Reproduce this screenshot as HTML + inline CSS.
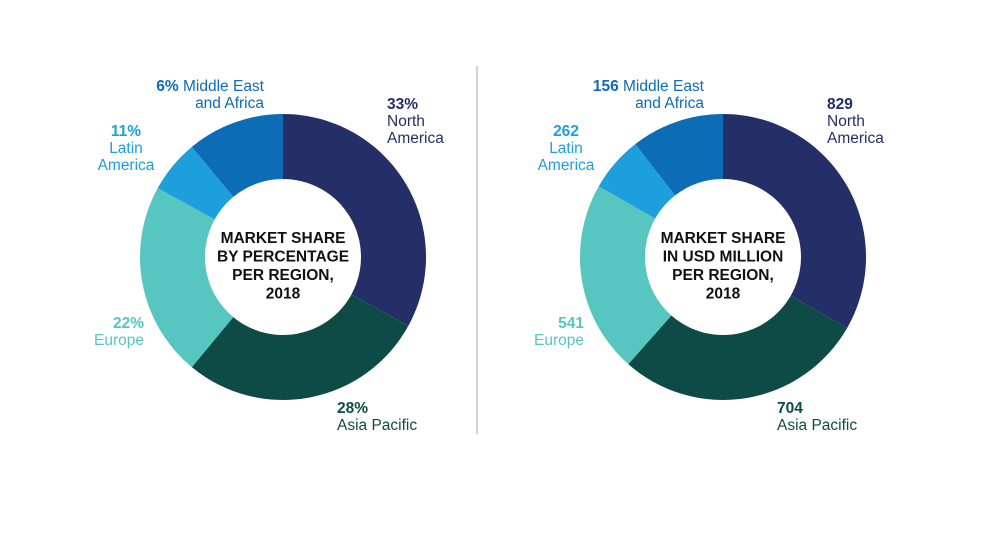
<!DOCTYPE html>
<html><head><meta charset="utf-8">
<style>
body{margin:0;background:#fff;width:1000px;height:531px;overflow:hidden;font-family:"Liberation Sans",sans-serif}
svg text{font-family:"Liberation Sans",sans-serif}
</style></head>
<body>
<svg id="chart" width="1000" height="531">
<line x1="477" y1="66" x2="477" y2="434" stroke="#a8a8a8" stroke-width="1"/>
</svg>
<script>
const categories = ["North America","Asia Pacific","Europe","Latin America","Middle East and Africa"];
const pctValues = [33,28,22,6,11];
const usdValues = [829,704,541,156,262];
const pctLabels = ["33%","28%","22%","11%","6%"];
const usdLabels = ["829","704","541","262","156"];
const colors = ["#232f66","#0f4b46","#57c6c1","#1d9fdb","#0c6cb5"];
const svg = document.getElementById('chart');
const NS = "http://www.w3.org/2000/svg";
function mk(tag, attrs){const e=document.createElementNS(NS,tag);for(const k in attrs)e.setAttribute(k,attrs[k]);svg.appendChild(e);return e;}
function donut(cx, cy, vals, labels, title, prefix){
  const R=143, r=78, tot=vals.reduce((a,b)=>a+b,0);
  let a0=0;
  vals.forEach((v,i)=>{
    const a1=a0+v/tot*2*Math.PI;
    const p=(a,rad)=>[cx+rad*Math.sin(a), cy-rad*Math.cos(a)];
    const [x1,y1]=p(a0,R),[x2,y2]=p(a1,R),[x3,y3]=p(a1,r),[x4,y4]=p(a0,r);
    const lg=(a1-a0)>Math.PI?1:0;
    const path=mk('path',{d:`M${x1},${y1}A${R},${R} 0 ${lg} 1 ${x2},${y2}L${x3},${y3}A${r},${r} 0 ${lg} 0 ${x4},${y4}Z`,fill:colors[i]});
    
    
    a0=a1;
  });
  title.forEach((t,j)=>{
    const tx=mk('text',{x:cx,y:cy-14+j*18.5,'text-anchor':'middle','font-size':'15.5','font-weight':'bold',fill:'#111'});
    tx.textContent=t;
    
    
  });
  const dx=cx-283;
  const lab=[
    {x:387,anchor:'start',y:[109,126,143],lines:[labels[0],"North","America"]},
    {x:337,anchor:'start',y:[413,430],lines:[labels[1],"Asia Pacific"]},
    {x:144,anchor:'end',y:[328,345],lines:[labels[2],"Europe"]},
    {x:126,anchor:'middle',y:[136,153,170],lines:[labels[3],"Latin","America"]},
    {x:264,anchor:'end',y:[91,108],lines:[labels[4]+" Middle East","and Africa"]}
  ];
  lab.forEach((L,i)=>{
    const t=mk('text',{x:L.x+dx,'text-anchor':L.anchor,'font-size':'15.5',fill:colors[i]});
    
    
    L.lines.forEach((ln,j)=>{
      const s=document.createElementNS(NS,'tspan');
      s.setAttribute('x',L.x+dx);s.setAttribute('y',L.y[j]);
      if(j===0){
        const sp=ln.indexOf(' ');
        if(sp>0){const b=document.createElementNS(NS,'tspan');b.setAttribute('font-weight','bold');b.textContent=ln.slice(0,sp);s.appendChild(b);s.appendChild(document.createTextNode(ln.slice(sp)));}
        else{s.setAttribute('font-weight','bold');s.textContent=ln;}
      } else s.textContent=ln;
      t.appendChild(s);
    });
  });
}
donut(283,257,pctValues,pctLabels,["MARKET SHARE","BY PERCENTAGE","PER REGION,","2018"],'pct');
donut(723,257,usdValues,usdLabels,["MARKET SHARE","IN USD MILLION","PER REGION,","2018"],'usd');
</script>
</body></html>
